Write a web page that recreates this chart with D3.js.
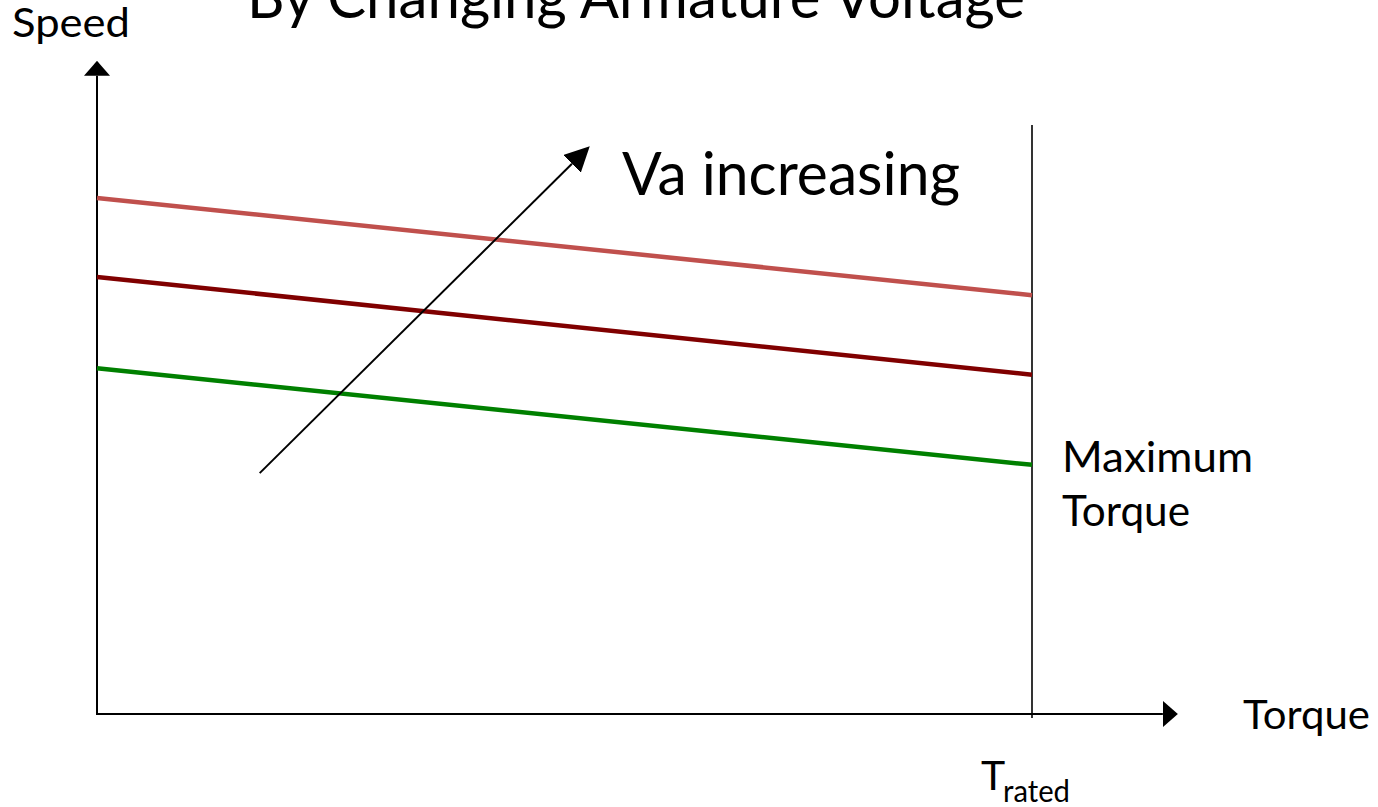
<!DOCTYPE html>
<html><head><meta charset="utf-8">
<script src="https://cdn.jsdelivr.net/npm/d3@7"></script>
<style>html,body{margin:0;padding:0;background:#fff;overflow:hidden}</style>
</head><body>
<svg id="c" width="1378" height="807"></svg>
<script>
// ---- data ----
const torque = [0, 1];                 // per-unit torque (1 = T_rated)
const speedHigh = [87.6, 71.1];        // highest armature voltage
const speedMid = [74.2, 57.6];
const speedLow = [58.7, 42.3];         // lowest armature voltage
const seriesNames = ["Va high", "Va medium", "Va low"];
const seriesColors = ["#C0504D", "#800000", "#008000"];
const tRated = 1;
const xAxisMax = 1.156;
const yAxisMax = 110.9;
const ratedLineTop = 100;
const arrowFrom = [0.174, 40.9];
const arrowTo = [0.527, 96.4];
const titleText = "By Changing Armature Voltage";
const yLabel = "Speed";
const xLabel = "Torque";
const arrowLabel = "Va increasing";
const maxLabel = ["Maximum", "Torque"];
const ratedMain = "T";
const ratedSub = "rated";

const FONT = "Lato, 'Liberation Sans', Arial, sans-serif";
const svg = d3.select("#c");
const x = d3.scaleLinear().domain([0, 1]).range([97, 1032]);
const y = d3.scaleLinear().domain([0, 100]).range([714, 125]);

const defs = svg.append("defs");
defs.append("marker").attr("id", "axhead")
  .attr("markerUnits", "userSpaceOnUse").attr("viewBox", "0 0 15 26")
  .attr("refX", 0).attr("refY", 13).attr("markerWidth", 15).attr("markerHeight", 26)
  .attr("orient", "auto")
  .append("path").attr("d", "M0,0L15,13L0,26Z").attr("fill", "#000");
defs.append("marker").attr("id", "vahead")
  .attr("markerUnits", "userSpaceOnUse").attr("viewBox", "0 0 25 25")
  .attr("refX", 0).attr("refY", 12.5).attr("markerWidth", 25).attr("markerHeight", 25)
  .attr("orient", "auto")
  .append("path").attr("d", "M0,0L25,12.5L0,25Z").attr("fill", "#000");

// axes
svg.append("line")
  .attr("x1", x(0)).attr("y1", y(0)).attr("x2", x(0)).attr("y2", y(yAxisMax) + 15)
  .attr("stroke", "#000").attr("stroke-width", 2).attr("marker-end", "url(#axhead)");
svg.append("line")
  .attr("x1", x(0) - 1).attr("y1", y(0)).attr("x2", x(xAxisMax) - 15).attr("y2", y(0))
  .attr("stroke", "#000").attr("stroke-width", 2).attr("marker-end", "url(#axhead)");

// rated torque line
svg.append("line")
  .attr("x1", x(tRated)).attr("x2", x(tRated))
  .attr("y1", y(ratedLineTop)).attr("y2", y(0) + 4)
  .attr("stroke", "#000").attr("stroke-width", 1.6);

// series
const series = [speedHigh, speedMid, speedLow].map((vals, i) => ({
  name: seriesNames[i], color: seriesColors[i],
  pts: torque.map((t, j) => [t, vals[j]])
}));
const line = d3.line().x(d => x(d[0])).y(d => y(d[1]));
svg.selectAll("path.series").data(series).enter().append("path")
  .attr("class", "series")
  .attr("d", d => line(d.pts))
  .attr("fill", "none").attr("stroke", d => d.color).attr("stroke-width", 4.5);

// Va increasing arrow
{
  const x1 = x(arrowFrom[0]), y1 = y(arrowFrom[1]);
  const x2 = x(arrowTo[0]), y2 = y(arrowTo[1]);
  const L = Math.hypot(x2 - x1, y2 - y1);
  const ex = x2 - (x2 - x1) / L * 25, ey = y2 - (y2 - y1) / L * 25;
  svg.append("line").attr("x1", x1).attr("y1", y1).attr("x2", ex).attr("y2", ey)
    .attr("stroke", "#000").attr("stroke-width", 2).attr("marker-end", "url(#vahead)");
}

// texts
function txt(s, px, py, size, len) {
  const t = svg.append("text").attr("x", px).attr("y", py)
    .attr("font-family", FONT).attr("font-size", size).attr("fill", "#000").text(s);
  if (len) t.attr("textLength", len).attr("lengthAdjust", "spacingAndGlyphs");
  return t;
}
txt(titleText, 247, 18, 60, 778);
txt(yLabel, 12, 37, 40, 118);
txt(arrowLabel, 622, 195, 60, 338);
txt(maxLabel[0], 1062, 472, 42, 191);
txt(maxLabel[1], 1062, 526, 42, 128);
txt(xLabel, 1243, 729, 40, 127);
txt(ratedMain, 981, 790, 41);
txt(ratedSub, 1003, 802, 30, 67);
</script>
</body></html>
